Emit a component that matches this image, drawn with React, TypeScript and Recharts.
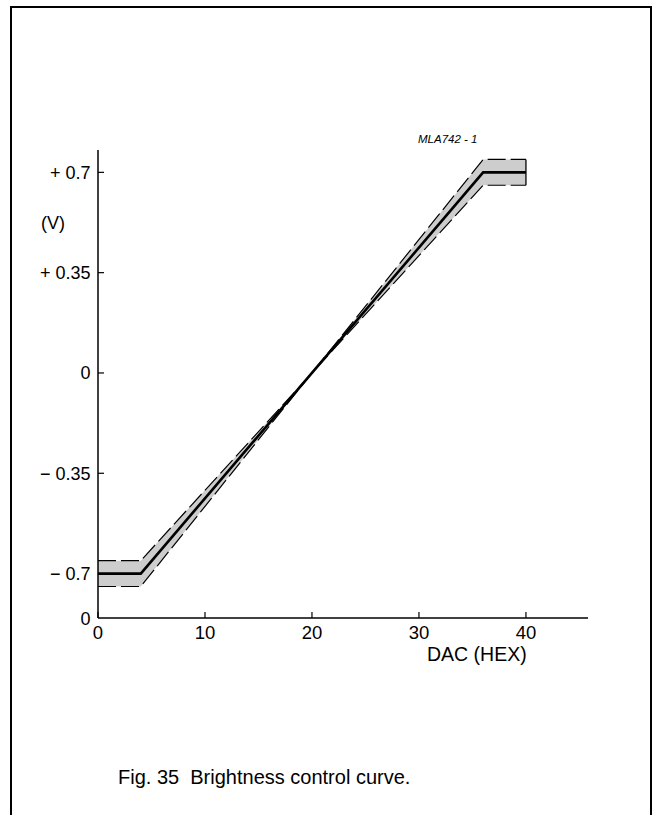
import React from "react";
import {
  ComposedChart,
  Area,
  Line,
  XAxis,
  YAxis,
  ReferenceLine,
} from "recharts";

// ---- data ----
const dacHex = [0, 4, 20, 36, 40];
const brightnessV = [-0.7, -0.7, 0, 0.7, 0.7];
const upperV = [-0.655, -0.655, 0, 0.745, 0.745];
const lowerV = [-0.745, -0.745, 0, 0.655, 0.655];

const xTicks = [0, 10, 20, 30, 40];
const xTickLabels = ["0", "10", "20", "30", "40"];
// bottom tick is the axis-break "0"
const yTicks = [-0.855, -0.7, -0.35, 0, 0.35, 0.7];
const yTickLabels = ["0", "\u2212 0.7", "\u2212 0.35", "0", "+ 0.35", "+ 0.7"];

const xDomain = [0, 45.8];
const yDomain = [-0.855, 0.778];

const chartData = dacHex.map((x, i) => ({
  x,
  v: brightnessV[i],
  hi: upperV[i],
  lo: lowerV[i],
  band: [lowerV[i], upperV[i]],
}));

const FONT = "'Liberation Sans', Arial, Helvetica, sans-serif";
const Y_FS = 18;
const X_FS = 18.5;

const XTick = (props: any) => {
  const { x, y, payload } = props;
  const idx = xTicks.indexOf(payload.value);
  return (
    <g>
      <line x1={x} y1={y} x2={x} y2={y - 6} stroke="#000" strokeWidth={1.2} />
      <text
        x={x}
        y={y + 21}
        textAnchor="middle"
        fontSize={X_FS}
        fontFamily={FONT}
        fill="#000"
      >
        {xTickLabels[idx]}
      </text>
    </g>
  );
};

const YTick = (props: any) => {
  const { x, y, payload } = props;
  const idx = yTicks.indexOf(payload.value);
  return (
    <g>
      {idx > 0 && (
        <line x1={x} y1={y} x2={x + 6} y2={y} stroke="#000" strokeWidth={1.2} />
      )}
      <text
        x={x - 7.5}
        y={y + 6.5}
        textAnchor="end"
        fontSize={Y_FS}
        fontFamily={FONT}
        fill="#000"
      >
        {yTickLabels[idx]}
      </text>
    </g>
  );
};

const last = dacHex.length - 1;

export default function App() {
  return (
    <div
      style={{
        position: "absolute",
        left: 0,
        top: 0,
        width: 656,
        height: 815,
        overflow: "hidden",
        background: "#fff",
      }}
    >
      <div
        style={{
          position: "absolute",
          left: 10,
          top: 6,
          width: 642,
          height: 840,
          border: "2px solid #000",
          boxSizing: "border-box",
        }}
      />
      <div style={{ position: "absolute", left: 0, top: 0 }}>
        <ComposedChart
          width={656}
          height={815}
          data={chartData}
          margin={{ top: 150, right: 68, bottom: 167, left: 0 }}
        >
          <XAxis
            dataKey="x"
            type="number"
            domain={xDomain}
            ticks={xTicks}
            interval={0}
            allowDataOverflow
            height={30}
            tickSize={0}
            tickMargin={0}
            tickLine={false}
            axisLine={{ stroke: "#000", strokeWidth: 1.5 }}
            tick={<XTick />}
          />
          <YAxis
            type="number"
            domain={yDomain}
            ticks={yTicks}
            interval={0}
            allowDataOverflow
            width={98}
            tickSize={0}
            tickMargin={0}
            tickLine={false}
            axisLine={{ stroke: "#000", strokeWidth: 1.5 }}
            tick={<YTick />}
          />
          <Area
            type="linear"
            dataKey="band"
            fill="#cdcdcd"
            fillOpacity={1}
            stroke="none"
            isAnimationActive={false}
            dot={false}
            activeDot={false}
          />
          <Line
            type="linear"
            dataKey="hi"
            stroke="#000"
            strokeWidth={1.2}
            strokeDasharray="18 5"
            dot={false}
            activeDot={false}
            isAnimationActive={false}
          />
          <Line
            type="linear"
            dataKey="lo"
            stroke="#000"
            strokeWidth={1.2}
            strokeDasharray="18 5"
            dot={false}
            activeDot={false}
            isAnimationActive={false}
          />
          <ReferenceLine
            segment={[
              { x: dacHex[last], y: upperV[last] },
              { x: dacHex[last], y: lowerV[last] },
            ]}
            stroke="#000"
            strokeWidth={1.3}
          />
          <Line
            type="linear"
            dataKey="v"
            stroke="#000"
            strokeWidth={2.6}
            dot={false}
            activeDot={false}
            isAnimationActive={false}
          />
        </ComposedChart>
      </div>
      <svg
        width={656}
        height={815}
        style={{ position: "absolute", left: 0, top: 0, pointerEvents: "none" }}
      >
        <text
          x={418}
          y={142.5}
          fontSize={11.5}
          fontStyle="italic"
          fontFamily={FONT}
          fill="#000"
        >
          MLA742 - 1
        </text>
        <text x={41} y={229} fontSize={Y_FS} fontFamily={FONT} fill="#000">
          (V)
        </text>
        <text x={427} y={661} fontSize={19.5} fontFamily={FONT} fill="#000">
          DAC (HEX)
        </text>
        <text
          x={118}
          y={784}
          fontSize={20}
          fontFamily={FONT}
          fill="#000"
          style={{ whiteSpace: "pre" }}
        >
          {"Fig. 35  Brightness control curve."}
        </text>
      </svg>
    </div>
  );
}
